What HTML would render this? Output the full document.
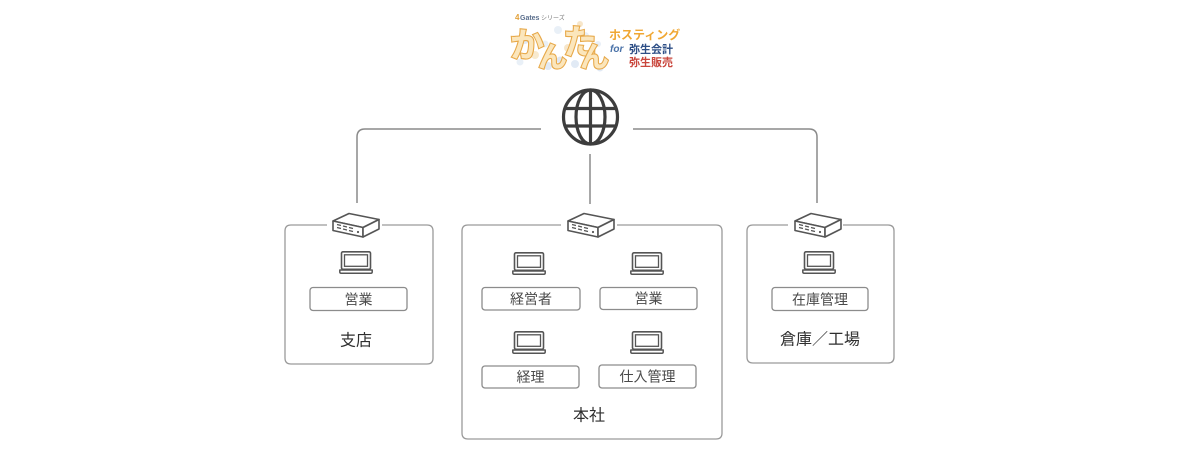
<!DOCTYPE html>
<html><head><meta charset="utf-8">
<style>
html,body{margin:0;padding:0;background:#fff;}
body{width:1177px;height:451px;overflow:hidden;}
svg{display:block;}
.t{font-family:"Liberation Sans","Noto Sans CJK JP",sans-serif;}
</style></head>
<body>
<svg width="1177" height="451" viewBox="0 0 1177 451" xmlns="http://www.w3.org/2000/svg">
<defs>
  <g id="router">
    <path d="M1,9 L17,1.5 L47,7.5 L31,15.5 Z" fill="#fff" stroke="#555" stroke-width="1.6" stroke-linejoin="round"/>
    <path d="M1,9 L31,15.5 L31,25 L1,18.5 Z" fill="#fff" stroke="#555" stroke-width="1.6" stroke-linejoin="round"/>
    <path d="M31,15.5 L47,7.5 L47,17 L31,25 Z" fill="#fff" stroke="#555" stroke-width="1.6" stroke-linejoin="round"/>
    <path d="M5,12.5 l4,1 M11,14 l4,1 M17,15.5 l4,1 M5,15.5 l4,1 M11,17 l4,1 M17,18.5 l4,1" stroke="#555" stroke-width="1.4"/>
    <circle cx="26" cy="20" r="1.1" fill="#555"/>
  </g>
  <g id="laptop">
    <rect x="2.5" y="0.8" width="29" height="17.5" rx="1.5" fill="none" stroke="#555" stroke-width="1.6"/>
    <rect x="5.5" y="3.8" width="23" height="11.5" fill="none" stroke="#555" stroke-width="1.3"/>
    <path d="M0.8,19 H33.2 V21 Q33.2,22.3 31.8,22.3 H2.2 Q0.8,22.3 0.8,21 Z" fill="none" stroke="#555" stroke-width="1.5" stroke-linejoin="round"/>
  </g>
</defs>

<!-- logo -->
<g opacity="0.55">
  <circle cx="525" cy="40" r="4" fill="#c9d9ee"/>
  <circle cx="535" cy="55" r="4" fill="#f3d9a8"/>
  <circle cx="548" cy="66" r="4" fill="#c9d9ee"/>
  <circle cx="558" cy="30" r="4" fill="#d8e4f2"/>
  <circle cx="568" cy="48" r="4" fill="#f1d3a0"/>
  <circle cx="575" cy="64" r="4" fill="#c9d9ee"/>
  <circle cx="585" cy="36" r="4" fill="#d8e4f2"/>
  <circle cx="592" cy="55" r="4" fill="#f3d9a8"/>
  <circle cx="600" cy="68" r="3.5" fill="#c9d9ee"/>
  <circle cx="520" cy="62" r="3.5" fill="#d8e4f2"/>
  <circle cx="545" cy="44" r="3.5" fill="#d8e4f2"/>
  <circle cx="560" cy="60" r="3.5" fill="#c5d5ea"/>
  <circle cx="580" cy="24" r="3" fill="#f1d3a0"/>
  <circle cx="598" cy="44" r="3" fill="#d8e4f2"/>
</g>
<text class="t" x="515" y="20" font-size="8" font-weight="bold" fill="#e2a13a">4</text>
<text class="t" x="520" y="20" font-size="7" font-weight="bold" fill="#5a6e8c">Gates</text>
<text class="t" x="541" y="20" font-size="6" fill="#777">シリーズ</text>
<g class="t" font-size="34" font-weight="bold" fill="#fbe6bc" stroke="#e7a94a" stroke-width="2.2" paint-order="stroke">
  <text x="510" y="57">か</text>
  <text x="538" y="67" font-size="29">ん</text>
  <text x="563" y="54">た</text>
  <text x="580" y="67" font-size="29">ん</text>
</g>
<text class="t" x="609" y="39" font-size="12" font-weight="bold" fill="#f0a733">ホスティング</text>
<text class="t" x="610" y="52" font-size="10" font-style="italic" font-weight="bold" fill="#4a72a8">for</text>
<text class="t" x="629" y="53" font-size="11" font-weight="bold" fill="#2e4f86">弥生会計</text>
<text class="t" x="629" y="66" font-size="11" font-weight="bold" fill="#c9463c">弥生販売</text>

<!-- globe -->
<g fill="none" stroke="#3d3d3d" stroke-width="3.2">
  <circle cx="590.5" cy="117" r="27"/>
  <ellipse cx="590.5" cy="117" rx="14.5" ry="27"/>
  <line x1="590.5" y1="90" x2="590.5" y2="144"/>
  <line x1="566" y1="108.5" x2="615" y2="108.5"/>
  <line x1="566" y1="126" x2="615" y2="126"/>
</g>

<!-- connection lines -->
<g fill="none" stroke="#8a8a8a" stroke-width="1.5">
  <path d="M357,203 V137 Q357,129 365,129 H541"/>
  <path d="M633,129 H809 Q817,129 817,137 V203"/>
  <path d="M590,154 V204"/>
</g>

<!-- boxes -->
<g fill="none" stroke="#9a9a9a" stroke-width="1.3">
  <path d="M382,225 H427 Q433,225 433,231 V358 Q433,364 427,364 H291 Q285,364 285,358 V231 Q285,225 291,225 H327"/>
  <path d="M617,225 H716 Q722,225 722,231 V433 Q722,439 716,439 H468 Q462,439 462,433 V231 Q462,225 468,225 H561"/>
  <path d="M843,225 H888 Q894,225 894,231 V357 Q894,363 888,363 H753 Q747,363 747,357 V231 Q747,225 753,225 H788"/>
</g>

<!-- routers -->
<use href="#router" x="332" y="212"/>
<use href="#router" x="567" y="212"/>
<use href="#router" x="794" y="212"/>

<!-- laptops -->
<use href="#laptop" x="339" y="251"/>
<use href="#laptop" x="512" y="252"/>
<use href="#laptop" x="630" y="252"/>
<use href="#laptop" x="512" y="331"/>
<use href="#laptop" x="630" y="331"/>
<use href="#laptop" x="802" y="251"/>

<!-- label boxes -->
<g fill="none" stroke="#8c8c8c" stroke-width="1.3">
  <rect x="310" y="287.5" width="97" height="23" rx="3"/>
  <rect x="482" y="287.5" width="98" height="22.5" rx="3"/>
  <rect x="600" y="287.5" width="97" height="22" rx="3"/>
  <rect x="482" y="366" width="97" height="22" rx="3"/>
  <rect x="599" y="365" width="97" height="23" rx="3"/>
  <rect x="772" y="287.5" width="96" height="23" rx="3"/>
</g>
<g class="t" font-size="14" fill="#4a4a4a" text-anchor="middle" dominant-baseline="central">
  <text x="358.5" y="299.5">営業</text>
  <text x="531" y="299">経営者</text>
  <text x="648.5" y="298.5">営業</text>
  <text x="530.5" y="377">経理</text>
  <text x="647.5" y="376.5">仕入管理</text>
  <text x="820" y="299.5">在庫管理</text>
</g>
<g class="t" font-size="16" fill="#2e2e2e" text-anchor="middle" dominant-baseline="central">
  <text x="356" y="341">支店</text>
  <text x="589" y="416">本社</text>
  <text x="820" y="340">倉庫／工場</text>
</g>
</svg>
</body></html>
